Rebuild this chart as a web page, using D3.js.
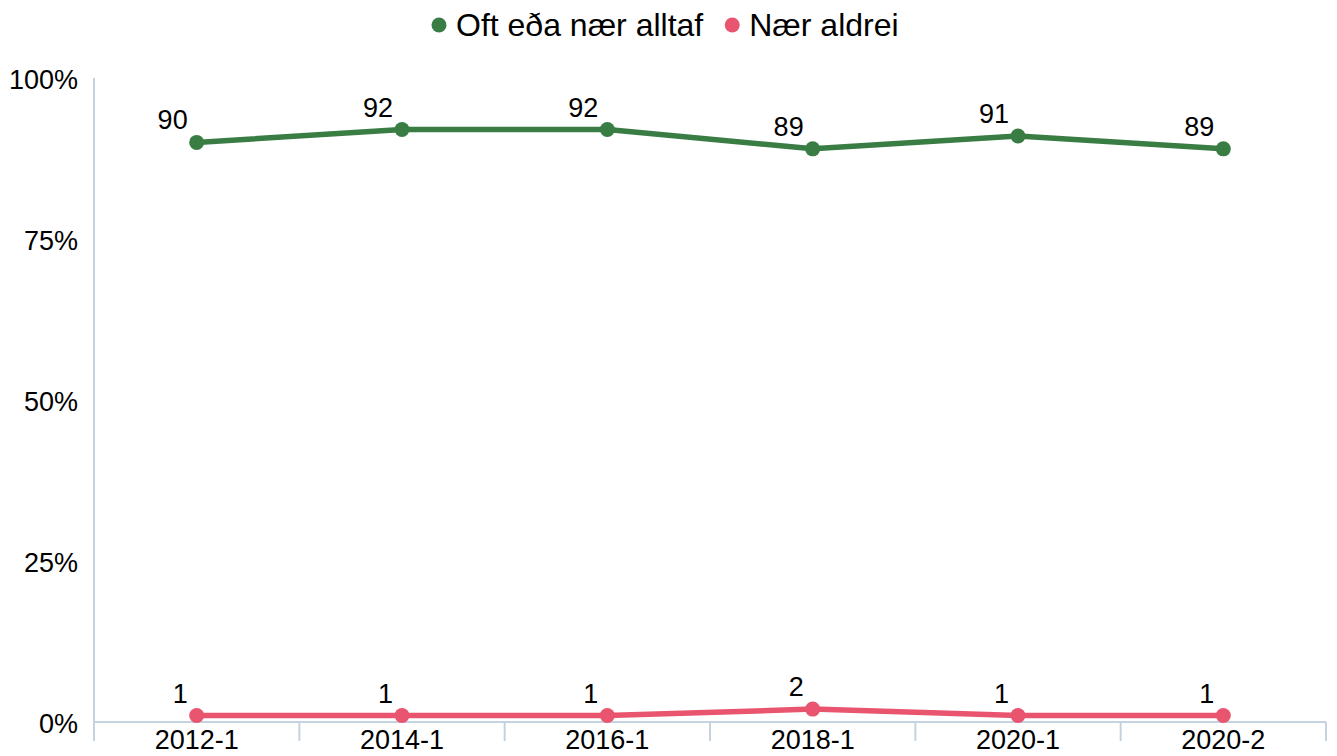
<!DOCTYPE html>
<html>
<head>
<meta charset="utf-8">
<script src="https://cdn.jsdelivr.net/npm/d3@7/dist/d3.min.js"></script>
<style>
  html, body { margin: 0; padding: 0; background: #ffffff; }
  svg { display: block; font-family: "Liberation Sans", Arial, sans-serif; }
</style>
</head>
<body>
<svg id="chart" width="1337" height="756"></svg>
<script>
const categories = ["2012-1", "2014-1", "2016-1", "2018-1", "2020-1", "2020-2"];
const seriesNames = ["Oft eða nær alltaf", "Nær aldrei"];
const oftValues = [90, 92, 92, 89, 91, 89];
const aldreiValues = [1, 1, 1, 2, 1, 1];
const yTicks = [0, 25, 50, 75, 100];
const yTickLabels = ["0%", "25%", "50%", "75%", "100%"];
const seriesColors = ["#3a7d44", "#e9546f"];

const series = [
  { name: seriesNames[0], values: oftValues, color: seriesColors[0] },
  { name: seriesNames[1], values: aldreiValues, color: seriesColors[1] }
];

const svg = d3.select("#chart");
const margin = { left: 94, right: 11, top: 78, bottom: 34 };
const W = 1337, H = 756;
const plotBottom = H - margin.bottom; // 722
const axisColor = "#c5d2e0";

const x = d3.scaleBand().domain(categories).range([margin.left, W - margin.right]).padding(0);
const y = d3.scaleLinear().domain([0, 100]).range([plotBottom, margin.top]);

// Y axis line
svg.append("line")
  .attr("x1", margin.left).attr("x2", margin.left)
  .attr("y1", y(100)).attr("y2", plotBottom + 19)
  .attr("stroke", axisColor).attr("stroke-width", 2);

// X axis line
svg.append("line")
  .attr("x1", margin.left).attr("x2", W - margin.right)
  .attr("y1", plotBottom).attr("y2", plotBottom)
  .attr("stroke", axisColor).attr("stroke-width", 2);

// X category boundary ticks
const boundaries = categories.map(c => x(c) + x.bandwidth());
svg.selectAll(".xtick").data(boundaries).enter().append("line")
  .attr("x1", d => d).attr("x2", d => d)
  .attr("y1", plotBottom).attr("y2", plotBottom + 19)
  .attr("stroke", axisColor).attr("stroke-width", 2);

// X labels
svg.selectAll(".xlabel").data(categories).enter().append("text")
  .attr("x", d => x(d) + x.bandwidth() / 2)
  .attr("y", plotBottom + 27)
  .attr("text-anchor", "middle")
  .attr("font-size", 27)
  .attr("fill", "#000")
  .text(d => d);

// Y labels
svg.selectAll(".ylabel").data(yTicks).enter().append("text")
  .attr("x", 78)
  .attr("y", d => y(d) + 11)
  .attr("text-anchor", "end")
  .attr("font-size", 27)
  .attr("fill", "#000")
  .text((d, i) => yTickLabels[i]);

const line = d3.line()
  .x((d, i) => x(categories[i]) + x.bandwidth() / 2)
  .y(d => y(d));

series.forEach(s => {
  const g = svg.append("g");
  g.append("path")
    .attr("d", line(s.values))
    .attr("fill", "none")
    .attr("stroke", s.color)
    .attr("stroke-width", 5.5)
    .attr("stroke-linejoin", "round");
  g.selectAll("circle").data(s.values).enter().append("circle")
    .attr("cx", (d, i) => x(categories[i]) + x.bandwidth() / 2)
    .attr("cy", d => y(d))
    .attr("r", 7.5)
    .attr("fill", s.color);
  g.selectAll("text").data(s.values).enter().append("text")
    .attr("x", (d, i) => x(categories[i]) + x.bandwidth() / 2 - 9)
    .attr("y", d => y(d) - 13)
    .attr("text-anchor", "end")
    .attr("font-size", 27)
    .attr("fill", "#000")
    .text(d => d);
});

// Legend
const legend = svg.append("g");
let lx = 439;
series.forEach(s => {
  legend.append("circle").attr("cx", lx).attr("cy", 25).attr("r", 7.5).attr("fill", s.color);
  const t = legend.append("text")
    .attr("x", lx + 17)
    .attr("y", 36)
    .attr("font-size", 32)
    .attr("fill", "#000")
    .text(s.name);
  const w = t.node().getComputedTextLength();
  lx = lx + 17 + w + 29;
});
</script>
</body>
</html>
